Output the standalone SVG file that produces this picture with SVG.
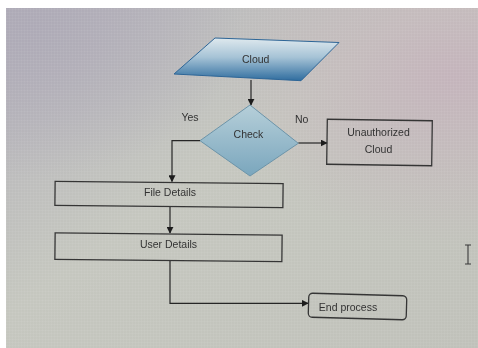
<svg xmlns="http://www.w3.org/2000/svg" width="478" height="348" viewBox="0 0 478 348">
<defs>
<linearGradient id="bg" x1="0" y1="0" x2="1" y2="1">
<stop offset="0" stop-color="#b3b0ba"/>
<stop offset="0.45" stop-color="#c5c7bf"/>
<stop offset="1" stop-color="#c0c1ba"/>
</linearGradient>
<radialGradient id="pink" cx="0.95" cy="0.2" r="0.5">
<stop offset="0" stop-color="#c4b2bb" stop-opacity="0.9"/>
<stop offset="1" stop-color="#c4b2bb" stop-opacity="0"/>
</radialGradient>
<radialGradient id="lav" cx="0.05" cy="0.05" r="0.45">
<stop offset="0" stop-color="#ada9b6" stop-opacity="0.9"/>
<stop offset="1" stop-color="#ada9b6" stop-opacity="0"/>
</radialGradient>
<pattern id="grid" width="3" height="3" patternUnits="userSpaceOnUse">
<path d="M0 0.5H3M0.5 0V3" stroke="#ffffff" stroke-width="0.6" stroke-opacity="0.08" fill="none"/>
</pattern>
<linearGradient id="para" x1="0" y1="0" x2="0" y2="1">
<stop offset="0" stop-color="#dfe9ee"/>
<stop offset="0.45" stop-color="#a6c3d6"/>
<stop offset="1" stop-color="#2f6d9f"/>
</linearGradient>
<linearGradient id="dia" x1="0" y1="0" x2="0" y2="1">
<stop offset="0" stop-color="#b6cfd9"/>
<stop offset="1" stop-color="#7aa6bd"/>
</linearGradient>
<marker id="arr" viewBox="0 0 10 10" refX="9" refY="5" markerWidth="7" markerHeight="7" orient="auto" markerUnits="userSpaceOnUse">
<path d="M0 0L10 5L0 10z" fill="#1e1e1e"/>
</marker>
<filter id="soft" x="-5%" y="-5%" width="110%" height="110%">
<feGaussianBlur stdDeviation="0.45"/>
</filter>
</defs>
<style>
.box{fill:none;stroke:#363636;stroke-width:1.3}
.t{font-family:"Liberation Sans",Arial,sans-serif;font-size:10.5px;fill:#333333;text-anchor:middle;dominant-baseline:central}
.c{fill:none;stroke:#262626;stroke-width:1.2;marker-end:url(#arr)}
</style>
<rect width="478" height="348" fill="#ffffff"/>
<rect x="6" y="8" width="472" height="340" fill="url(#bg)"/>
<rect x="6" y="8" width="472" height="340" fill="url(#pink)"/>
<rect x="6" y="8" width="472" height="340" fill="url(#lav)"/>
<rect x="6" y="8" width="472" height="340" fill="url(#grid)"/>
<g filter="url(#soft)">
<g id="connectors">
<path class="c" d="M251 80V105"/>
<path class="c" d="M200 140.7H172V181.5"/>
<path class="c" d="M298.3 143H327"/>
<path class="c" d="M170 206V233"/>
<path class="c" d="M170 260.5V303.3H308"/>
</g>
<g id="cloud">
<polygon points="215,38 339,42.5 301,80.7 174,74" fill="url(#para)" stroke="#2d6596" stroke-width="1"/>
<text class="t" x="255.7" y="59.3">Cloud</text>
</g>
<g id="check">
<polygon points="250,105 298.3,143.3 250,176 200,140.7" fill="url(#dia)" stroke="#6b93a8" stroke-width="1"/>
<text class="t" x="248.5" y="134.3">Check</text>
</g>
<g id="labels">
<text class="t" x="190" y="116.7">Yes</text>
<text class="t" x="301.7" y="119.3">No</text>
</g>
<g id="unauthorized">
<rect class="box" x="327" y="120" width="105" height="45" transform="rotate(0.8 379.5 142.5)"/>
<text class="t" x="378.5" y="132.3">Unauthorized</text>
<text class="t" x="378.5" y="149">Cloud</text>
</g>
<g id="file-details">
<rect class="box" x="55" y="182.5" width="228" height="24" transform="rotate(0.6 169 194.5)"/>
<text class="t" x="170" y="192">File Details</text>
</g>
<g id="user-details">
<rect class="box" x="55" y="234" width="227" height="26.5" transform="rotate(0.6 168.5 247)"/>
<text class="t" x="168.5" y="243.5">User Details</text>
</g>
<g id="end-process">
<rect class="box" x="308.5" y="294.5" width="98" height="24" rx="4" transform="rotate(1.6 357.5 306.5)"/>
<text class="t" x="348" y="306.7">End process</text>
</g>
<g id="cursor" stroke="#3a3a3a" stroke-width="1.1" fill="none">
<path d="M468 245.5V263.5M465 245H471M465 264H471"/>
</g>
</g>
</svg>
